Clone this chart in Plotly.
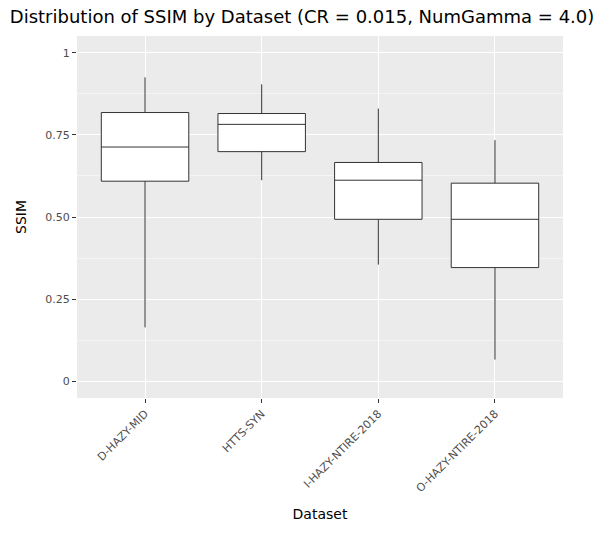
import plotly.graph_objects as go

datasets = ["D-HAZY-MID", "HTTS-SYN", "I-HAZY-NTIRE-2018", "O-HAZY-NTIRE-2018"]
lower = [0.164, 0.612, 0.355, 0.066]
q1 = [0.609, 0.699, 0.493, 0.346]
median = [0.713, 0.782, 0.612, 0.493]
q3 = [0.818, 0.815, 0.666, 0.603]
upper = [0.925, 0.904, 0.830, 0.734]

fig = go.Figure(go.Box(
    x=datasets, q1=q1, median=median, q3=q3, lowerfence=lower, upperfence=upper,
    fillcolor="white", line=dict(color="#333333", width=1), width=0.75,
    whiskerwidth=0, showlegend=False, hoverinfo="skip"))

fig.update_layout(
    width=600, height=524, paper_bgcolor="white", plot_bgcolor="#EBEBEB",
    margin=dict(l=60, r=45, t=28, b=127),
    font=dict(family="DejaVu Sans", color="#4D4D4D", size=11),
    title=dict(text="Distribution of SSIM by Dataset (CR = 0.015, NumGamma = 4.0)",
               x=0.003, xanchor="left", y=0.995, yanchor="top",
               font=dict(size=18, color="black")),
)
fig.update_xaxes(title=dict(text="Dataset", font=dict(size=14, color="black")),
                 tickangle=-45, showgrid=True, gridcolor="white", gridwidth=1.2,
                 ticks="outside", ticklen=4, tickcolor="#333333", zeroline=False)
fig.update_yaxes(title=dict(text="SSIM", font=dict(size=14, color="black")),
                 range=[-0.051, 1.051], tickvals=[0, 0.25, 0.5, 0.75, 1],
                 ticktext=["0", "0.25", "0.50", "0.75", "1"],
                 showgrid=True, gridcolor="white", gridwidth=1.2,
                 minor=dict(tickvals=[0.125, 0.375, 0.625, 0.875], showgrid=True,
                            gridcolor="#F5F5F5", gridwidth=0.6),
                 ticks="outside", ticklen=4, tickcolor="#333333", zeroline=False)
fig.write_html("out.html")
